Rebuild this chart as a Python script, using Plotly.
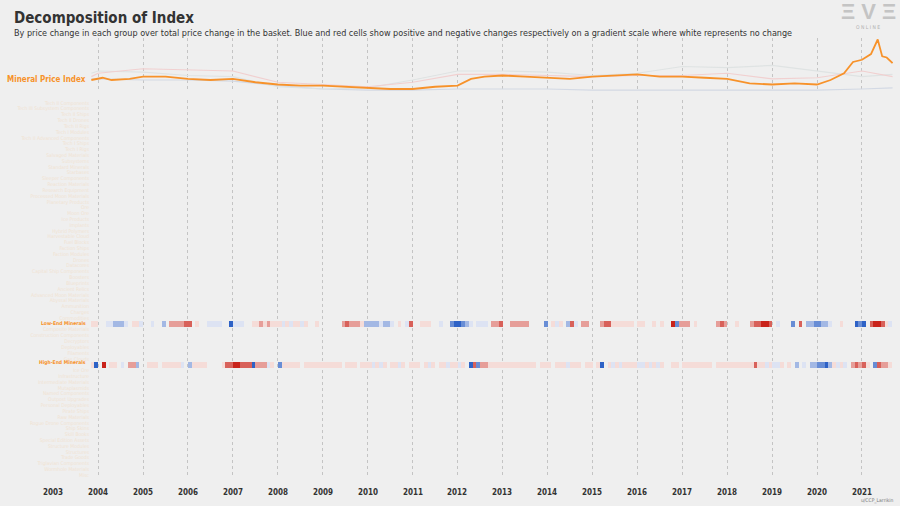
import plotly.graph_objects as go
from plotly.subplots import make_subplots

# ---- line chart data (index values) ----
idx_years = [2003.85, 2004.1, 2004.3, 2004.7, 2005.0, 2005.5, 2006.0, 2006.5, 2007.0, 2007.5,
             2008.0, 2008.5, 2009.0, 2009.5, 2010.0, 2010.5, 2011.0, 2011.5, 2012.0, 2012.3,
             2012.6, 2013.0, 2013.5, 2014.0, 2014.5, 2015.0, 2015.5, 2016.0, 2016.5, 2017.0,
             2017.5, 2018.0, 2018.5, 2019.0, 2019.5, 2020.0, 2020.3, 2020.6, 2020.8, 2021.0,
             2021.2, 2021.35, 2021.45, 2021.55, 2021.68]
mineral_index = [100, 106, 100, 103, 109, 109, 103, 100, 103, 94,
                 88, 85, 85, 82, 79, 76, 76, 82, 85, 103,
                 109, 112, 109, 106, 103, 109, 112, 115, 109, 109,
                 106, 103, 91, 88, 91, 88, 100, 118, 148, 154,
                 169, 208, 163, 160, 145]

grp_years = [2003.85, 2004, 2005, 2006, 2007, 2008, 2009, 2010, 2011, 2012,
             2013, 2014, 2015, 2016, 2017, 2018, 2019, 2020, 2021, 2021.68]
low_end_idx = [109, 118, 130, 127, 124, 94, 88, 82, 94, 115, 115, 112, 109, 112, 112, 118, 103, 106, 124, 109]
high_end_idx = [118, 124, 121, 112, 109, 82, 76, 79, 100, 124, 124, 121, 112, 118, 136, 133, 139, 124, 109, 115]
other_idx = [103, 103, 100, 100, 97, 85, 76, 73, 73, 76, 76, 76, 73, 73, 73, 73, 73, 73, 76, 79]

# ---- heatmap data: one char per month, '-' none, '1'-'4' red (positive), 'a'-'d' blue (negative) ----
years = list(range(2003, 2022))
low_end_months = [
    "----------11", "--aabbba-11a", "--a--b-22223", "3-1--aaaa--d", "aaa--1121211",
    "1a1a11a1--1-", "-----232221b", "bbbabba-1-a3", "--111--a--cd", "dcba-aaa-223",
    "--22222----c", "-1a1-b3a-22-", "--233111111-", "11--1-1--4c2", "22-1-----232",
    "--1---233443", "-a---c-3-bbc", "cbba--1---dc", "d-34431a----",
]
high_end_months = [
    "----------1d", "-4-11-a-22b-", "-111-11111a-", "b1111----133", "44333d222a1-",
    "c11111-11111", "11111-111-11", "1a1a1-11a1-1", "11-1a1-11a11", "a1-d3c221111",
    "111111111-11", "1-111a111-11", "-1d-1a1a1111", "aa1a1a1--11-", "11111111-111",
    "1111111311a1", "aa1-1-b-a-bb", "ccdb1a1a-232", "31-c3221----",
]

groups = [
    "Tech II Components", "Tech III Subsystem Components", "Tech II Ships", "Tech II Drones",
    "Tech II Rigs", "Tech I Modules", "Tech II Advanced Components", "Tech I Ships",
    "Tech I Rigs", "Salvaged Materials", "Subsystems", "Standard Minerals", "Starbases",
    "Sleeper Components", "Reaction Materials", "Research Equipment", "Processed Moon Materials",
    "Planetary Products", "Ore", "Moon Ore", "Ice Products", "Implants", "Hybrid Polymers",
    "Harvestable Cloud", "Fuel Blocks", "Faction Ships", "Faction Modules", "Drones",
    "Datacores", "Capital Ship Components", "Boosters", "Blueprints", "Ancient Relics",
    "Advanced Moon Materials", "Abyssal Materials", "Ammunition", "Charges",
    "Commodities", "Low-End Minerals", "Composite Materials", "Construction Components",
    "Decryptors", "Deployables", "Filaments", "Gas Clouds", "High-End Minerals", "Ice Ore",
    "Infrastructure", "Intermediate Materials", "Mutaplasmids", "Named Components",
    "Outpost Upgrades", "Personal Deployables", "Pirate Ships", "Raw Materials",
    "Rogue Drone Components", "Ship Skins", "Skill Books", "Special Edition Assets",
    "Structure Modules", "Structures", "Trade Goods", "Triglavian Components",
    "Wormhole Materials", "Misc",
]
highlighted = ["Low-End Minerals", "High-End Minerals"]

LEVELS = {"1": 0.25, "2": 0.5, "3": 0.75, "4": 1.0,
          "a": -0.25, "b": -0.5, "c": -0.75, "d": -1.0}


def decode(rows):
    xs, vals = [], []
    for y, s in zip(years, rows):
        for m, ch in enumerate(s):
            xs.append(y + (m + 0.5) / 12)
            vals.append(LEVELS.get(ch))
    return xs, vals


month_x, low_vals = decode(low_end_months)
_, high_vals = decode(high_end_months)
z = []
for g in groups:
    if g == "Low-End Minerals":
        z.append(low_vals)
    elif g == "High-End Minerals":
        z.append(high_vals)
    else:
        z.append([None] * len(month_x))

ORANGE = "#f7922a"
BG = "#efefef"
W, H = 900, 506
L, R = 90, 7
PW = W - L - R


def px(x):
    return (x - L) / PW


def py(y):
    return 1 - y / H


fig = make_subplots(rows=2, cols=1, shared_xaxes=True)

fig.add_trace(go.Scatter(x=grp_years, y=other_idx, mode="lines",
                         line=dict(color="#d3d9e4", width=1.2)), row=1, col=1)
fig.add_trace(go.Scatter(x=grp_years, y=high_end_idx, mode="lines",
                         line=dict(color="#dfe3e3", width=1.2)), row=1, col=1)
fig.add_trace(go.Scatter(x=grp_years, y=low_end_idx, mode="lines",
                         line=dict(color="#f1d0d0", width=1.2)), row=1, col=1)
fig.add_trace(go.Scatter(x=idx_years, y=mineral_index, mode="lines",
                         line=dict(color=ORANGE, width=1.8)), row=1, col=1)

fig.add_trace(go.Heatmap(
    x=month_x, y=groups, z=z, zmin=-1, zmax=1, showscale=False, hoverongaps=False,
    colorscale=[[0, "#2e62c6"], [0.375, "#dde3f3"], [0.5, "#f6f4f6"],
                [0.625, "#f5dcd8"], [1, "#c9231b"]],
), row=2, col=1)

xrange = [2003.82, 2021.69]
grid = dict(showgrid=True, gridcolor="#c4c4c4", griddash="dot", gridwidth=1,
            tick0=2004, dtick=1, showticklabels=False, zeroline=False, range=xrange)
fig.update_xaxes(**grid)
fig.update_yaxes(domain=[py(92), py(38)], range=[68, 212], visible=False, row=1, col=1)
fig.update_yaxes(domain=[py(478), py(100)], autorange="reversed", showgrid=False,
                 tickmode="array", tickvals=groups,
                 ticktext=["" if g in highlighted else g for g in groups],
                 tickfont=dict(size=5, color="#f1e3d2", family="DejaVu Sans Condensed"),
                 ticks="", row=2, col=1)

ann = [
    dict(text="<b>Decomposition of Index</b>", x=px(12), y=py(18), font=dict(size=15, color="#333")),
    dict(text="By price change in each group over total price change in the basket. Blue and red cells show "
              "positive and negative changes respectively on a gradient scale where white represents no change",
         x=px(12), y=py(33), font=dict(size=9, color="#333")),
    dict(text="<b>Mineral Price Index</b>", x=px(88), y=py(79), xanchor="right",
         font=dict(size=8, color=ORANGE)),
    dict(text="<b>Low-End Minerals</b>", x=px(88), y=py(323), xanchor="right",
         font=dict(size=5, color=ORANGE)),
    dict(text="<b>High-End Minerals</b>", x=px(88), y=py(362), xanchor="right",
         font=dict(size=5, color=ORANGE)),
    dict(text="<b>Ξ V Ξ</b>", x=px(868), y=py(12), xanchor="center",
         font=dict(size=22, color="#c4c4c4", family="Liberation Sans")),
    dict(text="O N L I N E", x=px(868), y=py(27), xanchor="center",
         font=dict(size=5, color="#b0b0b0")),
    dict(text="u/CCP_Larrikin", x=px(896), y=py(500), xanchor="right",
         font=dict(size=5, color="#777")),
]
for yr in range(2003, 2022):
    ann.append(dict(text=f"<b>{yr}</b>", x=px(53 + (yr - 2003) * 44.94), y=py(492),
                    xanchor="center", font=dict(size=8, color="#333")))
for a in ann:
    a.setdefault("xanchor", "left")
    fig.add_annotation(xref="paper", yref="paper", yanchor="middle", showarrow=False, **a)

fig.update_layout(
    width=W, height=H, showlegend=False,
    paper_bgcolor=BG, plot_bgcolor=BG,
    margin=dict(l=L, r=R, t=0, b=0),
    font=dict(family="DejaVu Sans Condensed"),
)

fig.write_html("out.html", config={"displayModeBar": False},
               post_script="document.body.style.margin='0';")
